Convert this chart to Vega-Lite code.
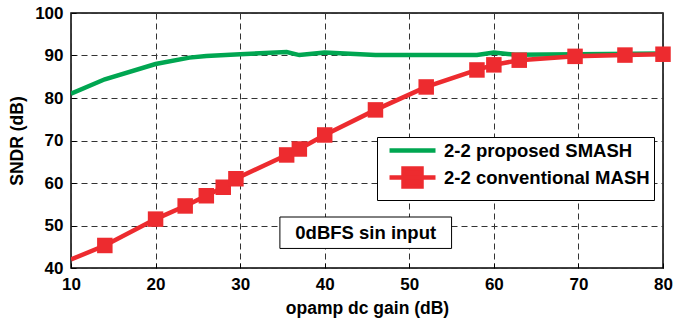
{
  "$schema": "https://vega.github.io/schema/vega-lite/v6.json",
  "width": 592,
  "height": 255,
  "autosize": "none",
  "padding": {"left": 71, "top": 13, "right": 10, "bottom": 53},
  "background": "white",
  "config": {
    "font": "Liberation Sans",
    "view": {"stroke": "black", "strokeWidth": 1.5},
    "axis": {
      "labelFont": "Liberation Sans", "labelFontWeight": "bold", "labelFontSize": 17, "labelColor": "black",
      "titleFont": "Liberation Sans", "titleFontSize": 17.5, "titleFontWeight": "bold", "titleColor": "black",
      "domain": false, "tickColor": "black", "tickSize": -5, "tickWidth": 1,
      "gridColor": "#333333", "gridDash": [6, 4], "gridOpacity": 1, "gridWidth": 1
    },
    "legend": {
      "orient": "none", "legendX": 306, "legendY": 124,
      "strokeColor": "black", "fillColor": "white", "padding": 4, "cornerRadius": 0,
      "labelFont": "Liberation Sans", "labelFontSize": 18.5, "labelFontWeight": "bold", "labelColor": "black",
      "symbolType": "M-0.14,0H6.43", "symbolSize": 196, "symbolStrokeWidth": 4.5,
      "rowPadding": -1, "labelOffset": 44, "labelLimit": 400
    }
  },
  "datasets": {
    "curves": [
      {"gain": 10, "sndr": 81.0, "series": "2-2 proposed SMASH"},
      {"gain": 14, "sndr": 84.4, "series": "2-2 proposed SMASH"},
      {"gain": 20, "sndr": 88.0, "series": "2-2 proposed SMASH"},
      {"gain": 24, "sndr": 89.5, "series": "2-2 proposed SMASH"},
      {"gain": 26, "sndr": 89.9, "series": "2-2 proposed SMASH"},
      {"gain": 30, "sndr": 90.3, "series": "2-2 proposed SMASH"},
      {"gain": 35.5, "sndr": 90.8, "series": "2-2 proposed SMASH"},
      {"gain": 37, "sndr": 90.1, "series": "2-2 proposed SMASH"},
      {"gain": 40, "sndr": 90.7, "series": "2-2 proposed SMASH"},
      {"gain": 46, "sndr": 90.1, "series": "2-2 proposed SMASH"},
      {"gain": 50, "sndr": 90.1, "series": "2-2 proposed SMASH"},
      {"gain": 58, "sndr": 90.1, "series": "2-2 proposed SMASH"},
      {"gain": 60, "sndr": 90.7, "series": "2-2 proposed SMASH"},
      {"gain": 62.5, "sndr": 90.2, "series": "2-2 proposed SMASH"},
      {"gain": 70, "sndr": 90.3, "series": "2-2 proposed SMASH"},
      {"gain": 80, "sndr": 90.5, "series": "2-2 proposed SMASH"},
      {"gain": 10, "sndr": 42.0, "series": "2-2 conventional MASH"},
      {"gain": 14, "sndr": 45.3, "series": "2-2 conventional MASH"},
      {"gain": 20, "sndr": 51.5, "series": "2-2 conventional MASH"},
      {"gain": 23.5, "sndr": 54.6, "series": "2-2 conventional MASH"},
      {"gain": 26, "sndr": 57.0, "series": "2-2 conventional MASH"},
      {"gain": 28, "sndr": 59.0, "series": "2-2 conventional MASH"},
      {"gain": 29.5, "sndr": 61.0, "series": "2-2 conventional MASH"},
      {"gain": 35.5, "sndr": 66.6, "series": "2-2 conventional MASH"},
      {"gain": 37, "sndr": 68.0, "series": "2-2 conventional MASH"},
      {"gain": 40, "sndr": 71.3, "series": "2-2 conventional MASH"},
      {"gain": 46, "sndr": 77.2, "series": "2-2 conventional MASH"},
      {"gain": 52, "sndr": 82.6, "series": "2-2 conventional MASH"},
      {"gain": 58, "sndr": 86.6, "series": "2-2 conventional MASH"},
      {"gain": 60, "sndr": 87.8, "series": "2-2 conventional MASH"},
      {"gain": 63, "sndr": 88.9, "series": "2-2 conventional MASH"},
      {"gain": 69.6, "sndr": 89.8, "series": "2-2 conventional MASH"},
      {"gain": 75.5, "sndr": 90.1, "series": "2-2 conventional MASH"},
      {"gain": 80, "sndr": 90.3, "series": "2-2 conventional MASH"}
    ],
    "note": [
      {"x": 34.7, "x2": 55.0, "y": 44.6, "y2": 52.0, "xm": 44.85, "ym": 48.3, "label": "0dBFS sin input"}
    ]
  },
  "layer": [
    {
      "data": {"name": "curves"},
      "mark": {"type": "line", "strokeWidth": 4.5, "clip": true},
      "encoding": {
        "x": {"field": "gain", "type": "quantitative", "title": "opamp dc gain (dB)",
              "scale": {"domain": [10, 80], "nice": false},
              "axis": {"values": [10, 20, 30, 40, 50, 60, 70, 80], "labelPadding": 13, "titlePadding": 7, "labelFlush": false}},
        "y": {"field": "sndr", "type": "quantitative", "title": "SNDR (dB)",
              "scale": {"domain": [40, 100], "nice": false},
              "axis": {"values": [40, 50, 60, 70, 80, 90, 100], "labelPadding": 13, "titlePadding": 8}},
        "color": {"field": "series", "type": "nominal",
                  "scale": {"domain": ["2-2 proposed SMASH", "2-2 conventional MASH"], "range": ["#00A651", "#ED2B2F"]},
                  "legend": {"title": null,
                    "encode": {"symbols": {"update": {
                      "shape": [{"test": "datum.value === '2-2 conventional MASH'", "value": "M-0.14,0H6.43M1.86,-1.29H4.43V1.29H1.86Z"}, {"value": "M-0.14,0H6.43"}],
                      "fill": [{"test": "datum.value === '2-2 conventional MASH'", "value": "#ED2B2F"}, {"value": "transparent"}]
                    }}}}}
      }
    },
    {
      "data": {"name": "curves"},
      "transform": [{"filter": "datum.series === '2-2 conventional MASH' && datum.gain > 10"}],
      "mark": {"type": "point", "shape": "square", "filled": true, "size": 240, "color": "#ED2B2F", "opacity": 1},
      "encoding": {
        "x": {"field": "gain", "type": "quantitative"},
        "y": {"field": "sndr", "type": "quantitative"}
      }
    },
    {
      "data": {"name": "note"},
      "mark": {"type": "rect", "fill": "white", "stroke": "black", "strokeWidth": 1},
      "encoding": {
        "x": {"field": "x", "type": "quantitative"},
        "x2": {"field": "x2"},
        "y": {"field": "y", "type": "quantitative"},
        "y2": {"field": "y2"}
      }
    },
    {
      "data": {"name": "note"},
      "mark": {"type": "text", "font": "Liberation Sans", "fontWeight": "bold", "fontSize": 18.5, "color": "black", "align": "center", "baseline": "middle"},
      "encoding": {
        "x": {"field": "xm", "type": "quantitative"},
        "y": {"field": "ym", "type": "quantitative"},
        "text": {"field": "label"}
      }
    }
  ]
}
